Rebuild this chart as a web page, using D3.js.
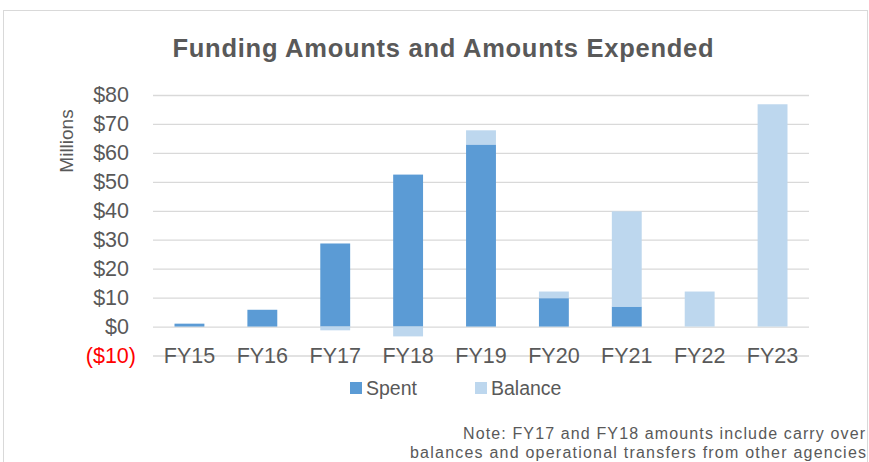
<!DOCTYPE html>
<html lang="en">
<head>
<meta charset="UTF-8">
<title>Funding Amounts and Amounts Expended</title>
<script src="https://cdn.jsdelivr.net/npm/d3@7"></script>
<style>
  body { margin: 0; background: #fff; }
  svg { display: block; font-family: "Liberation Sans", Arial, sans-serif; }
</style>
</head>
<body>
<div id="chart"></div>
<script>
// Chart data (millions of dollars)
const years = ["FY15", "FY16", "FY17", "FY18", "FY19", "FY20", "FY21", "FY22", "FY23"];
const spent = [1.0, 5.8, 28.7, 52.5, 62.9, 9.8, 6.9, 0, 0];
const balance = [0, 0, -1.3, -3.4, 4.9, 2.3, 32.9, 12.1, 76.8];
const yTicks = [-10, 0, 10, 20, 30, 40, 50, 60, 70, 80];
const seriesNames = ["Spent", "Balance"];
const noteLines = [
  "Note: FY17 and FY18 amounts include carry over",
  "balances and operational transfers from other agencies"
];

const W = 869, H = 462;
const textColor = "#595959";
const color = d3.scaleOrdinal().domain(seriesNames).range(["#5B9BD5", "#BDD7EE"]);

const svg = d3.select("#chart").append("svg")
  .attr("width", W)
  .attr("height", H);

// chart frame
svg.append("rect")
  .attr("x", 3.5).attr("y", 10.5)
  .attr("width", 864).attr("height", 470)
  .attr("fill", "#fff")
  .attr("stroke", "#d9d9d9");

// title
svg.append("text")
  .attr("x", 443).attr("y", 57)
  .attr("text-anchor", "middle")
  .attr("font-size", 25.5)
  .attr("font-weight", "bold")
  .attr("fill", textColor)
  .attr("textLength", 541)
  .attr("lengthAdjust", "spacing")
  .text("Funding Amounts and Amounts Expended");

// scales
const x = d3.scaleBand()
  .domain(years)
  .range([153, 809])
  .paddingInner(0.59)
  .paddingOuter(0.295);

const y = d3.scaleLinear()
  .domain([-10, 80])
  .range([355.5, 95]);

// gridlines
svg.append("g")
  .attr("transform", "translate(153,0)")
  .call(d3.axisLeft(y).tickValues(yTicks).tickSize(-656).tickFormat(""))
  .call(g => g.select(".domain").remove())
  .call(g => g.selectAll("line").attr("stroke", "#d9d9d9").attr("stroke-width", 1.3));

// y axis labels
const fmt = v => v < 0 ? "($" + Math.abs(v) + ")" : "$" + v;
svg.append("g")
  .attr("transform", "translate(136,0)")
  .call(d3.axisLeft(y).tickValues(yTicks).tickSize(0).tickPadding(0).tickFormat(fmt))
  .call(g => g.select(".domain").remove())
  .call(g => g.selectAll("text")
    .attr("font-family", "Liberation Sans, Arial, sans-serif")
    .attr("font-size", 21.5)
    .attr("dx", d => d < 0 ? 0 : -7)
    .attr("fill", d => d < 0 ? "#ff0000" : textColor));

// y axis title
svg.append("text")
  .attr("transform", "translate(73,141) rotate(-90)")
  .attr("text-anchor", "middle")
  .attr("font-size", 19)
  .attr("fill", textColor)
  .text("Millions");

// stacked bars
const rows = years.map((yr, i) => ({ year: yr, Spent: spent[i], Balance: balance[i] }));
const stacked = d3.stack().keys(seriesNames).offset(d3.stackOffsetDiverging)(rows);

svg.append("g")
  .selectAll("g")
  .data(stacked)
  .join("g")
    .attr("fill", d => color(d.key))
  .selectAll("rect")
  .data(d => d)
  .join("rect")
    .attr("x", d => x(d.data.year))
    .attr("y", d => y(Math.max(d[0], d[1])))
    .attr("height", d => Math.abs(y(d[0]) - y(d[1])))
    .attr("width", x.bandwidth());

// x axis labels (sit on the low gridline)
svg.append("g")
  .attr("transform", "translate(0,355)")
  .call(d3.axisBottom(x).tickSize(0).tickPadding(0))
  .call(g => g.select(".domain").remove())
  .call(g => g.selectAll("text")
    .attr("font-family", "Liberation Sans, Arial, sans-serif")
    .attr("font-size", 21.5)
    .attr("fill", textColor)
    .attr("y", 0)
    .attr("dy", "0.36em"));

// legend
const legend = svg.append("g")
  .selectAll("g")
  .data(seriesNames)
  .join("g")
    .attr("transform", (d, i) => `translate(${350 + i * 125},382)`);

legend.append("rect")
  .attr("width", 12).attr("height", 12)
  .attr("fill", d => color(d));

legend.append("text")
  .attr("x", 16).attr("y", 6)
  .attr("dy", "0.36em")
  .attr("font-size", 19.5)
  .attr("fill", textColor)
  .text(d => d);

// note
svg.append("g")
  .selectAll("text")
  .data(noteLines)
  .join("text")
    .attr("x", (d, i) => i === 0 ? 463 : 410)
    .attr("y", (d, i) => 439 + i * 19)
    .attr("font-size", 16)
    .attr("fill", textColor)
    .attr("textLength", (d, i) => i === 0 ? 402 : 456)
    .attr("lengthAdjust", "spacing")
    .text(d => d);
</script>
</body>
</html>
